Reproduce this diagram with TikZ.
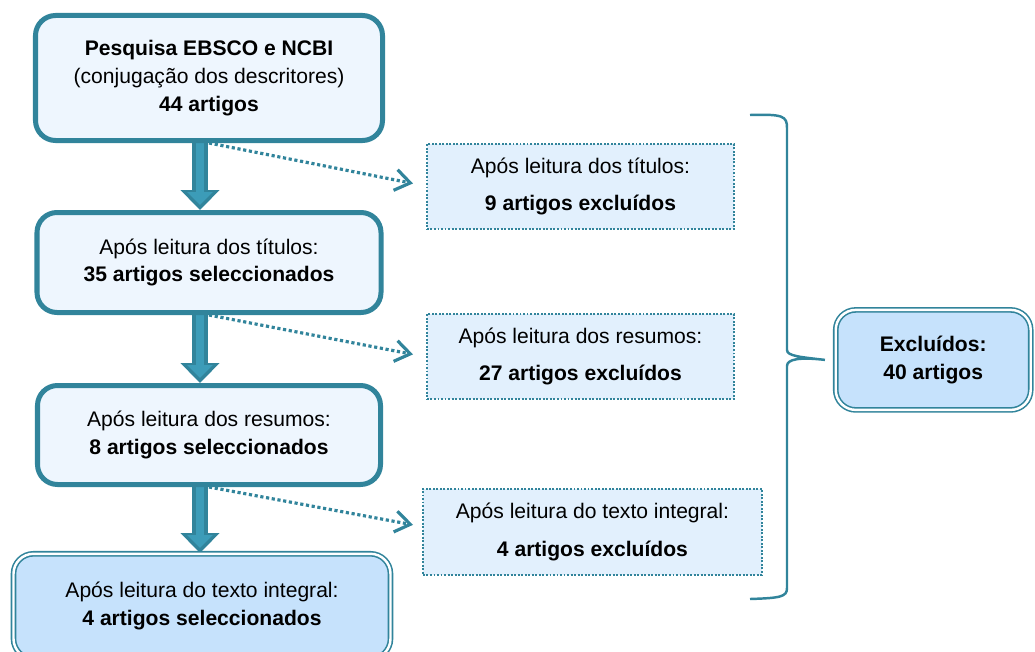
\documentclass[tikz,border=0pt]{standalone}
\usepackage{fontspec}
\setmainfont{Liberation Sans}
\usepackage{xcolor}
\usetikzlibrary{positioning,arrows.meta,backgrounds}

\definecolor{tealline}{HTML}{31849B}
\definecolor{tealfill}{HTML}{3C9CB8}
\definecolor{paleblue}{HTML}{EEF6FE}
\definecolor{dotblue}{HTML}{E2F0FD}
\definecolor{midblue}{HTML}{C6E2FC}

\begin{document}
\begin{tikzpicture}
		[stage/.style={rectangle,rounded corners=0.4cm,draw=tealline,fill=paleblue,line width=0.1cm,inner sep=0pt,align=center,font=\fontsize{12pt}{15.8pt}\selectfont},
		excluded/.style={rectangle,draw=tealline,fill=dotblue,line width=1.1pt,dash pattern=on 1.1pt off 0.9pt,inner sep=0pt,minimum width=6.14cm,minimum height=1.7cm,align=center,font=\fontsize{12pt}{21.5pt}\selectfont},
		result/.style={rectangle,rounded corners=0.4cm,draw=tealline,double=white,double distance=1.4pt,line width=0.9pt,fill=midblue,inner sep=0pt,align=center,font=\fontsize{12pt}{15.8pt}\selectfont},
		flowarrow/.style={line width=0.32cm,draw=tealline,-{Triangle[width=0.76cm,length=0.4cm]}},
		flowinner/.style={line width=0.16cm,draw=tealfill,shorten >=0.1cm,-{Triangle[width=0.5cm,length=0.26cm]}},
		cutarrow/.style={line width=1.8pt,draw=tealline,dash pattern=on 1.8pt off 1.5pt,-{Straight Barb[length=0.3cm,width=0.42cm]}}]
		\useasboundingbox (0,0) rectangle (20.7,-13.02);

		\node [stage,minimum width=6.94cm,minimum height=2.5cm] (s1) at (4.18,-1.56) {\textbf{Pesquisa EBSCO e NCBI}\\(conjugação dos descritores)\\\textbf{44 artigos}};
		\node [stage,minimum width=6.88cm,minimum height=2cm] (s2) [below=1.34cm of s1] {Após leitura dos títulos:\\\textbf{35 artigos seleccionados}};
		\node [stage,minimum width=6.86cm,minimum height=1.98cm] (s3) [below=1.36cm of s2] {Após leitura dos resumos:\\\textbf{8 artigos seleccionados}};
		\node [result,minimum width=7.54cm,minimum height=2.1cm] (s4) [below=1.32cm of s3,xshift=-0.14cm] {Após leitura do texto integral:\\\textbf{4 artigos seleccionados}};

		\node [excluded] (e1) [right=0.82cm of s1.south east,anchor=north west] {Após leitura dos títulos:\\\textbf{9 artigos excluídos}};
		\node [excluded] (e2) [below=1.66cm of e1] {Após leitura dos resumos:\\\textbf{27 artigos excluídos}};
		\node [excluded,minimum width=6.78cm,minimum height=1.72cm] (e3) [below=1.76cm of e2,xshift=0.24cm] {Após leitura do texto integral:\\\textbf{4 artigos excluídos}};

		\node [result,minimum width=3.9cm,minimum height=2cm] (total) [right=2cm of e2,yshift=-0.07cm] {\textbf{Excluídos:}\\\textbf{40 artigos}};
		\coordinate (tip) at ([xshift=-0.2cm]total.west);

		\begin{scope}[on background layer]
		\draw [cutarrow] (s1.south) -- ([xshift=-0.26cm,yshift=0.06cm]e1.west);
		\draw [cutarrow] (s2.south) -- ([xshift=-0.26cm,yshift=0.04cm]e2.west);
		\draw [cutarrow] (s3.south) -- ([xshift=-0.18cm,yshift=0.14cm]e3.west);

		\draw [flowarrow] ([xshift=-0.18cm]s1.south) -- ([xshift=-0.18cm]s1.south |- s2.north);
		\draw [flowinner] ([xshift=-0.18cm]s1.south) -- ([xshift=-0.18cm]s1.south |- s2.north);
		\draw [flowarrow] ([xshift=-0.18cm]s1.south |- s2.south) -- ([xshift=-0.18cm]s1.south |- s3.north);
		\draw [flowinner] ([xshift=-0.18cm]s1.south |- s2.south) -- ([xshift=-0.18cm]s1.south |- s3.north);
		\draw [flowarrow] ([xshift=-0.18cm]s1.south |- s3.south) -- ([xshift=-0.18cm]s1.south |- s4.north);
		\draw [flowinner] ([xshift=-0.18cm]s1.south |- s3.south) -- ([xshift=-0.18cm]s1.south |- s4.north);
		\end{scope}

		% chaveta dos excluidos
		\draw [tealline,line width=1.4pt] (15.0,-2.3) .. controls (15.66,-2.28) and (15.74,-2.32) .. (15.74,-2.56)
			-- (15.74,-7.0) .. controls (15.74,-7.12) and (16.0,-7.14) .. (tip)
			.. controls (16.0,-7.14) and (15.74,-7.18) .. (15.74,-7.32)
			-- (15.74,-11.76) .. controls (15.74,-11.94) and (15.6,-11.96) .. (15.0,-11.98);

	\end{tikzpicture}
\end{document}
